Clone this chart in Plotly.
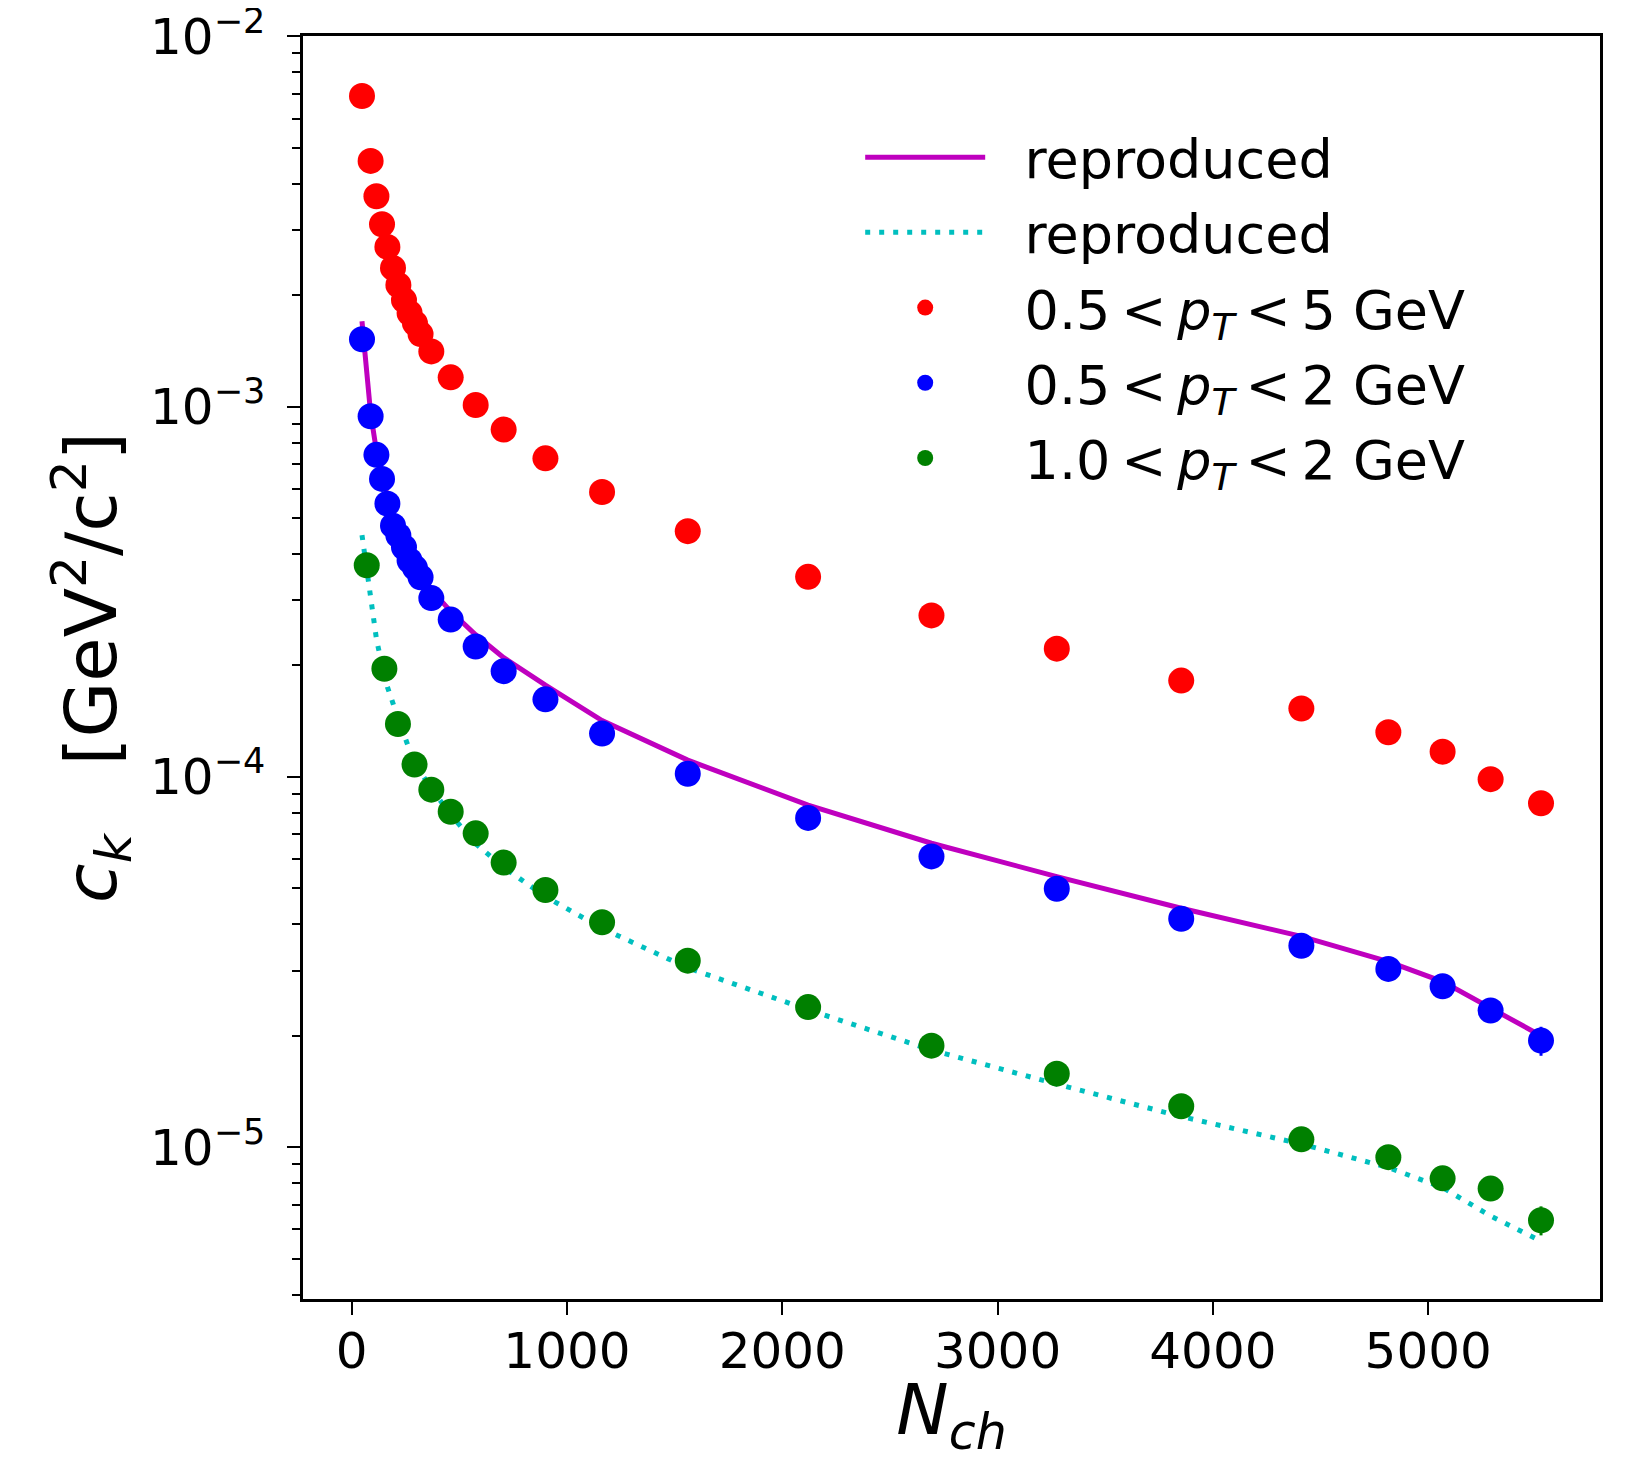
import plotly.graph_objects as go

# multiplicity bins
nch = [48, 88, 115, 141, 166, 192, 217, 243, 269, 294, 320, 370, 460, 576, 706,
       900, 1163, 1561, 2120, 2693, 3275, 3853, 4411, 4815, 5067, 5290, 5524]
nch_green = [70, 152, 215, 292, 370, 460, 576, 706, 900, 1163, 1561, 2120, 2693,
             3275, 3853, 4411, 4815, 5067, 5290, 5524]

ck_red = [6.90e-3, 4.61e-3, 3.70e-3, 3.11e-3, 2.70e-3, 2.37e-3, 2.13e-3, 1.94e-3,
          1.79e-3, 1.68e-3, 1.57e-3, 1.41e-3, 1.20e-3, 1.01e-3, 8.67e-4, 7.25e-4,
          5.88e-4, 4.61e-4, 3.47e-4, 2.73e-4, 2.22e-4, 1.82e-4, 1.53e-4, 1.32e-4,
          1.17e-4, 9.86e-5, 8.49e-5]
ck_blue = [1.52e-3, 9.42e-4, 7.41e-4, 6.38e-4, 5.47e-4, 4.77e-4, 4.49e-4, 4.17e-4,
           3.84e-4, 3.67e-4, 3.46e-4, 3.04e-4, 2.66e-4, 2.25e-4, 1.93e-4, 1.62e-4,
           1.31e-4, 1.02e-4, 7.75e-5, 6.10e-5, 4.99e-5, 4.14e-5, 3.50e-5, 3.03e-5,
           2.72e-5, 2.34e-5, 1.94e-5]
ck_green = [3.73e-4, 1.96e-4, 1.39e-4, 1.08e-4, 9.24e-5, 8.05e-5, 7.04e-5, 5.87e-5,
            4.95e-5, 4.05e-5, 3.19e-5, 2.39e-5, 1.88e-5, 1.58e-5, 1.29e-5, 1.05e-5,
            9.40e-6, 8.24e-6, 7.73e-6, 6.35e-6]

# relative errors
err_red = [0.03] * 27
err_blue = [0.03] * 26 + [0.09]
err_green = [0.03] * 19 + [0.09]

fit_blue = [1.70e-3, 9.6e-4, 7.6e-4, 6.5e-4, 5.6e-4, 4.95e-4, 4.6e-4, 4.3e-4, 4.0e-4,
            3.8e-4, 3.6e-4, 3.2e-4, 2.8e-4, 2.42e-4, 2.1e-4, 1.77e-4, 1.42e-4, 1.11e-4,
            8.39e-5, 6.62e-5, 5.38e-5, 4.42e-5, 3.71e-5, 3.17e-5, 2.80e-5, 2.38e-5, 2.0e-5]
fit_green = [4.50e-4, 2.95e-4, 2.36e-4, 2.0e-4, 1.75e-4, 1.58e-4, 1.43e-4, 1.30e-4,
             1.18e-4, 1.10e-4, 1.03e-4, 9.3e-5, 7.9e-5, 6.6e-5, 5.7e-5, 4.75e-5, 3.9e-5,
             3.05e-5, 2.35e-5, 1.83e-5, 1.48e-5, 1.21e-5, 1.02e-5, 8.81e-6, 7.78e-6,
             6.52e-6, 5.58e-6]

y_tickvals = [1e-5, 1e-4, 1e-3, 1e-2]
y_ticktext = ["10<sup>\u22125</sup>", "10<sup>\u22124</sup>",
              "10<sup>\u22123</sup>", "10<sup>\u22122</sup>"]

PAD = "\u00a0\u00a0"
TS = "\u2009"


def errs(y, rel):
    return [a * b for a, b in zip(y, rel)]


def pt_label(lo, hi):
    return f"{lo}{TS}&lt;{TS}<i>p<sub>T</sub></i>{TS}&lt;{TS}{hi} GeV"


fig = go.Figure()

fig.add_trace(go.Scatter(
    x=nch, y=fit_blue, mode="lines",
    line=dict(color="#bf00bf", width=5),
    name=PAD + "reproduced", legendgroup="g0"
))
fig.add_trace(go.Scatter(
    x=nch, y=fit_green, mode="lines",
    line=dict(color="#00bfbf", width=5, dash="5px,9px"),
    name=PAD + "reproduced", legendgroup="g1"
))

series = [
    (nch, ck_red, err_red, "#ff0000", pt_label("0.5", "5")),
    (nch, ck_blue, err_blue, "#0000ff", pt_label("0.5", "2")),
    (nch_green, ck_green, err_green, "#008000", pt_label("1.0", "2")),
]

for i, (x, y, rel, color, label) in enumerate(series):
    fig.add_trace(go.Scatter(
        x=x, y=y, mode="markers",
        marker=dict(color=color, size=26, line=dict(width=0)),
        error_y=dict(type="data", array=errs(y, rel), color=color,
                     thickness=3, width=0),
        name=PAD + label, legendgroup=f"g{i + 2}"
    ))

axis_style = dict(
    showgrid=False,
    zeroline=False,
    showline=True,
    linecolor="black",
    linewidth=2.5,
    mirror=True,
    ticks="outside",
    ticklen=13,
    tickwidth=2,
    tickcolor="black",
    automargin=False,
    ticklabeloverflow="allow",
)

fig.update_layout(
    width=1632,
    height=1453,
    font=dict(family="DejaVu Sans", size=50, color="black"),
    plot_bgcolor="white",
    paper_bgcolor="white",
    margin=dict(l=295, r=40, t=28, b=162),
    xaxis=dict(
        range=[-226, 5798],
        dtick=1000,
        ticklabelstandoff=-7,
        title=dict(text="<i>N<sub>ch</sub></i>", font=dict(size=70), standoff=14),
        **axis_style
    ),
    yaxis=dict(
        type="log",
        range=[-5.41, -1.999],
        tickvals=y_tickvals,
        ticktext=y_ticktext,
        ticklabelstandoff=12,
        minor=dict(ticks="outside", ticklen=8, tickwidth=1.5, tickcolor="black",
                   dtick="D1", showgrid=False),
        title=dict(text="<i>c<sub>k</sub></i>   [GeV<sup>2</sup>/c<sup>2</sup>]",
                   font=dict(size=72), standoff=10),
        **axis_style
    ),
    legend=dict(
        x=0.4296,
        y=0.937,
        xanchor="left",
        yanchor="top",
        bgcolor="rgba(0,0,0,0)",
        borderwidth=0,
        itemwidth=120,
        tracegroupgap=2,
        font=dict(size=54),
    ),
    showlegend=True,
)

fig.write_html("out.html")
